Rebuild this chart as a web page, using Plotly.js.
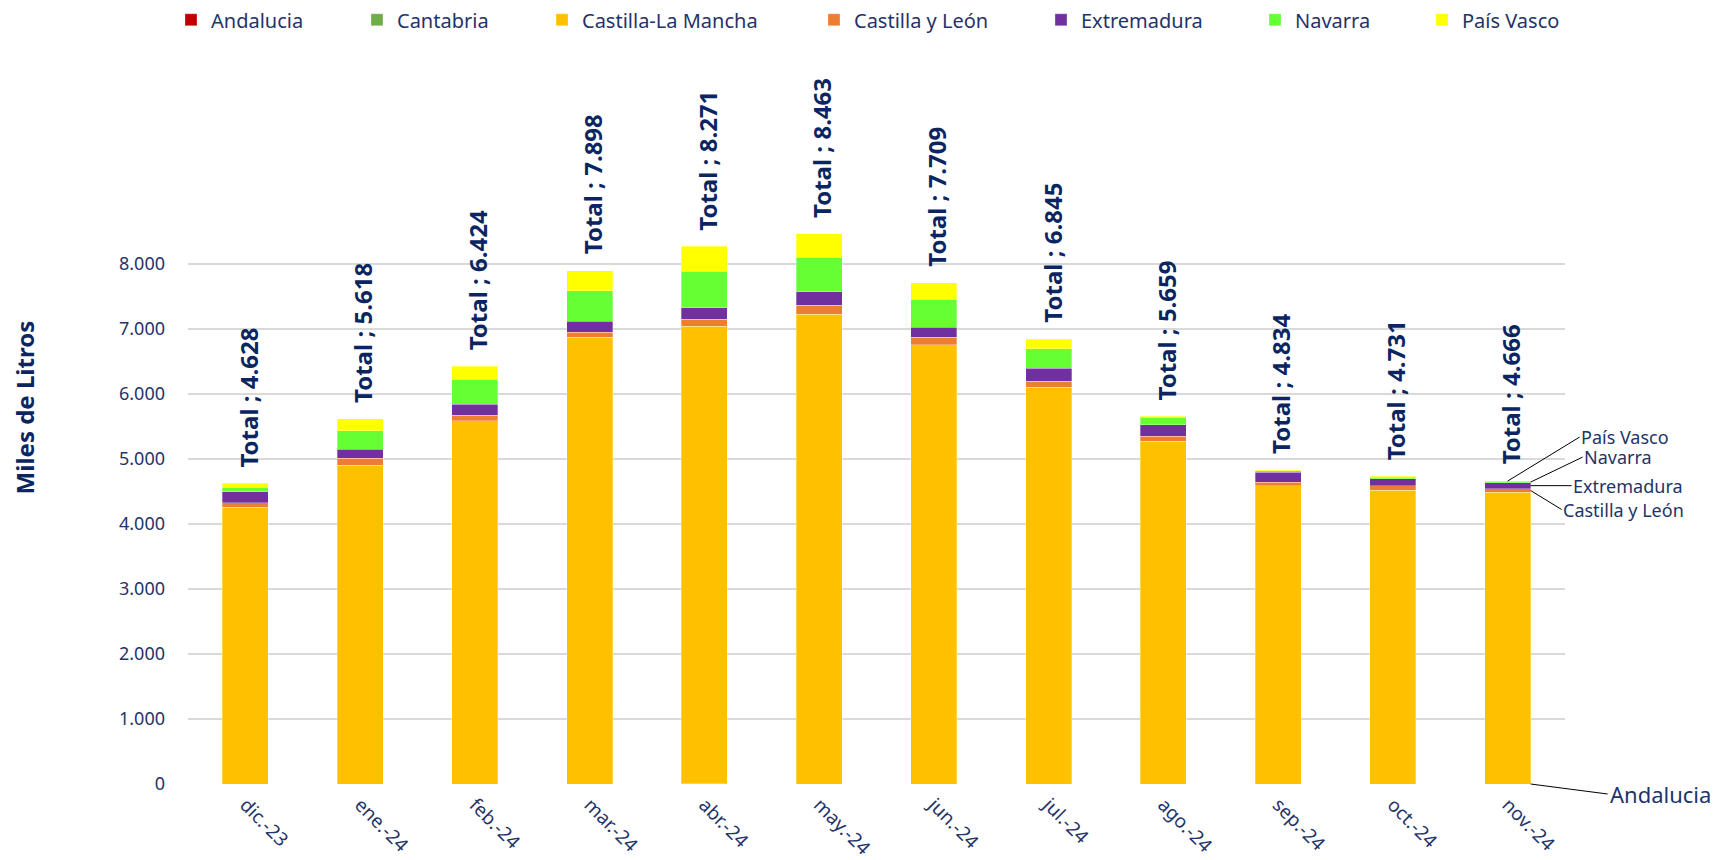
<!DOCTYPE html>
<html>
<head>
<meta charset="utf-8">
<script src="https://cdn.plot.ly/plotly-3.0.1.min.js"></script>
<style>html,body{margin:0;padding:0;background:#fff;}#chart{width:1714px;height:860px;}</style>
</head>
<body>
<div id="chart"></div>
<script>
const months = ["dic.-23","ene.-24","feb.-24","mar.-24","abr.-24","may.-24","jun.-24","jul.-24","ago.-24","sep.-24","oct.-24","nov.-24"];
const andalucia = [0,0,0,0,6,0,0,0,0,0,0,0];
const cantabria = [0,0,0,0,0,0,0,0,0,0,0,0];
const castillaLaMancha = [4257,4905,5590,6870,7034,7230,6755,6105,5275,4588,4520,4485];
const castillaYLeon = [71,108,87,78,108,138,115,95,77,52,70,60];
const extremadura = [169,140,169,175,180,205,158,200,175,155,105,90];
const navarra = [72,285,379,465,560,532,430,297,115,27,25,20];
const paisVasco = [59,180,199,310,383,358,251,148,17,12,11,11];
const totals = [4628,5618,6424,7898,8271,8463,7709,6845,5659,4834,4731,4666];
const yTicks = [0,1000,2000,3000,4000,5000,6000,7000,8000];

const navy = "#1f3468";
const dark = "#0b2561";
const font = "Noto Sans, DejaVu Sans, sans-serif";

const series = [
  {name:"Andalucia", y:andalucia, color:"#C00000"},
  {name:"Cantabria", y:cantabria, color:"#70AD47"},
  {name:"Castilla-La Mancha", y:castillaLaMancha, color:"#FFC000"},
  {name:"Castilla y León", y:castillaYLeon, color:"#ED7D31"},
  {name:"Extremadura", y:extremadura, color:"#7030A0"},
  {name:"Navarra", y:navarra, color:"#66FF33"},
  {name:"País Vasco", y:paisVasco, color:"#FFFF00"}
];
// legend entry left edges (px) along the top row
const legendX = [171, 357, 542, 814, 1041, 1255, 1422];

const traces = series.map((s,i) => ({
  type:"bar", name:s.name, x:months, y:s.y,
  legend: i === 0 ? "legend" : "legend" + (i+1),
  marker:{color:s.color, line:{color:"rgba(255,255,255,0.5)", width:0.6}},
  hoverinfo:"name+y"
}));

function fmt(v){ return String(v).replace(/\B(?=(\d{3})+(?!\d))/g, "."); }

const annotations = months.map((m,i) => ({
  x:m, y:totals[i], xref:"x", yref:"y",
  text:"Total ; " + fmt(totals[i]),
  textangle:-90, showarrow:false, yanchor:"bottom", xanchor:"center",
  yshift:14, xshift:3,
  font:{family:font, size:24, color:dark, weight:"bold"}
}));

// callouts on last bar
const L = months.length - 1;
function cum(k){ let s=0; for(let j=0;j<=k;j++) s+=series[j].y[L]; return s; }
function mid(k){ return cum(k) - series[k].y[L]/2; }
const callouts = [
  {k:6, text:"País Vasco", xs:0, ax:72, ay:-44},
  {k:5, text:"Navarra", xs:23, ax:52, ay:-25},
  {k:4, text:"Extremadura", xs:23, ax:41, ay:0},
  {k:3, text:"Castilla y León", xs:23, ax:31, ay:19}
];
callouts.forEach(c => annotations.push({
  x:months[L], y:mid(c.k), xref:"x", yref:"y", xshift:c.xs,
  text:c.text, showarrow:true, arrowhead:0, arrowwidth:1, arrowcolor:"#000",
  ax:c.ax, ay:c.ay, xanchor:"left", yanchor:"middle", standoff:0, startstandoff:0,
  borderpad:0,
  font:{family:font, size:18, color:navy}
}));
annotations.push({
  x:months[L], y:0, xref:"x", yref:"y", xshift:23,
  text:"Andalucia", showarrow:true, arrowhead:0, arrowwidth:1, arrowcolor:"#000",
  ax:77, ay:10, xanchor:"left", yanchor:"middle",
  font:{family:font, size:22, color:navy}
});
annotations.push({
  xref:"paper", yref:"paper", x:-0.119, y:0.644,
  text:"Miles de Litros", textangle:-90, showarrow:false,
  xanchor:"center", yanchor:"middle",
  font:{family:font, size:24, color:dark, weight:"bold"}
});

const layout = {
  width:1714, height:860,
  margin:{l:188, r:149, t:199, b:76},
  paper_bgcolor:"#fff", plot_bgcolor:"#fff",
  barmode:"stack", bargap:0.6,
  font:{family:font, size:18, color:navy},
  showlegend:true,
  xaxis:{type:"category", range:[-0.5, 11.5], autorange:false, tickangle:45,
    showgrid:false, zeroline:false, showline:false, ticks:"",
    ticklabelstandoff:5, tickfont:{family:font, size:19, color:navy}},
  yaxis:{range:[0,9000], autorange:false, tickvals:yTicks, tickformat:",d", showgrid:true,
    gridcolor:"#d9d9d9", gridwidth:1.5, zeroline:false, showline:false,
    ticks:"", ticklabelstandoff:22, tickfont:{family:font, size:18, color:navy}},
  separators:",.",
  annotations:annotations
};
legendX.forEach((px,i) => {
  layout[i === 0 ? "legend" : "legend" + (i+1)] = {
    orientation:"h", xref:"container", yref:"container",
    x:px/1714, y:0.977, xanchor:"left", yanchor:"middle",
    bgcolor:"rgba(0,0,0,0)",
    font:{family:font, size:20, color:navy}
  };
});

Plotly.newPlot("chart", traces, layout, {displayModeBar:false, staticPlot:true});
</script>
</body>
</html>
